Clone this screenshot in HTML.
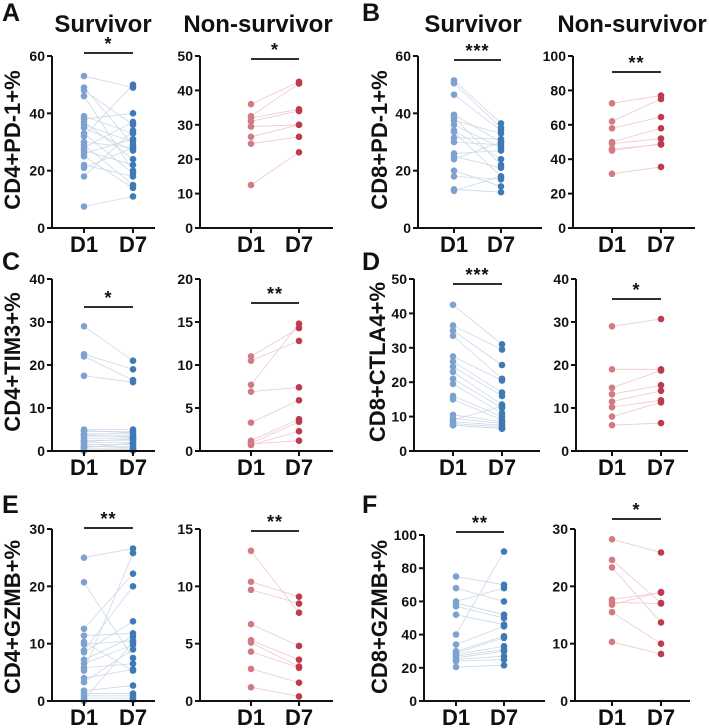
<!DOCTYPE html>
<html><head><meta charset="utf-8"><style>
html,body{margin:0;padding:0;background:#fff;}
svg{display:block;font-family:"Liberation Sans",Arial,sans-serif;font-weight:bold;}
</style></head><body>
<svg id="fig" width="709" height="728" viewBox="0 0 709 728" xmlns="http://www.w3.org/2000/svg">
<g font-size="24" text-anchor="middle" fill="#111">
<text x="103" y="32">Survivor</text>
<text x="258" y="32">Non-survivor</text>
<text x="473" y="32">Survivor</text>
<text x="632" y="32">Non-survivor</text>
</g>
<g font-size="25" fill="#111">
<text x="2" y="21">A</text>
<text x="362" y="21">B</text>
<text x="2" y="270">C</text>
<text x="362" y="270">D</text>
<text x="2" y="513">E</text>
<text x="362" y="513">F</text>
</g>
<g font-size="22" text-anchor="middle" fill="#111">
<text transform="translate(20,140) rotate(-90)">CD4+PD-1+%</text>
<text transform="translate(387,140) rotate(-90)">CD8+PD-1+%</text>
<text transform="translate(20,362) rotate(-90)">CD4+TIM3+%</text>
<text transform="translate(385,362) rotate(-90)">CD8+CTLA4+%</text>
<text transform="translate(20,617) rotate(-90)">CD4+GZMB+%</text>
<text transform="translate(387,617) rotate(-90)">CD8+GZMB+%</text>
</g>
</svg>
<script>
// ---- data ----
const categories = ["D1","D7"];
const aSurvD1 = [53,49,48,46,39,38,37,36,35,33,32,30,29,28,27,26,25,22,21,18,7.5];
const aSurvD7 = [49,29,36,20,33,40,24,30,27,19,50,28,15,37,22,31,14,18,28,34,11];
const aNonD1 = [36,32.5,32,31,29.5,26.5,24.5,12.5];
const aNonD7 = [42.5,42,34.5,34,30,30,26.5,22];
const bSurvD1 = [51.5,50.5,46.5,39.5,38.5,37.5,36,34,33.5,31.5,30,26,25,24,20,18,13.5,13];
const bSurvD7 = [36.5,35,34,30,22,33,28,24,18,31,29,27,21,30,14.5,17,12.5,18];
const bNonD1 = [72.5,62,58,50,49,46,45,31.5];
const bNonD7 = [77,75,64.5,58,52,48.5,49,35.5];
const cSurvD1 = [29,22.5,22,17.5,5,4.5,4,3.5,3,2.5,2,1.5,1,0.5,0.2,0,4.8,3.8,2.2,1.2,0.8];
const cSurvD7 = [21,19,16.5,16,5,4.6,4,3.5,3,2.5,2,1.5,1,0.5,0.3,0.1,4.2,3.2,2.8,0.7,1.8];
const cNonD1 = [11,10.5,7.7,6.9,3.3,1.2,0.9,0.7,0.8];
const cNonD7 = [14.3,12.8,14.8,7.4,5.9,3.7,3.4,2.3,1.2];
const dSurvD1 = [42.5,36.5,35,33.5,27.5,26,24.5,23,21,19.5,16,15,10.5,9.5,8.5,8,7.5,7.5,9];
const dSurvD7 = [31,29.5,25,21,20.5,17,16,13.5,12.5,11,10,9,8.5,8,7.5,7,6.5,6.5,13];
const dNonD1 = [29,19,14.7,13.2,11.5,10.2,8,6];
const dNonD7 = [30.7,19,18.7,15.3,14,11.8,11.3,6.5];
const eSurvD1 = [25,20.7,12.6,11.4,10.3,9.9,8.8,8.5,7.2,6.5,5.8,5.3,4,3.3,1.8,1.3,0.9,0.5,0.2,0];
const eSurvD7 = [26.6,7.5,22.2,11.8,5.3,10.5,20,13.9,11.2,9.8,6.5,25.8,5.5,9,2.7,1.3,0.9,0.5,10.3,0.2];
const eNonD1 = [13.1,10.4,9.7,6.7,5.3,5.1,4.3,2.8,1.2];
const eNonD7 = [7.7,9.1,8.5,4.8,3.6,3.0,2.9,1.6,0.4];
const fSurvD1 = [75,68,60,59,57,52,40,34,30,29,28,27,26,25,24,20.5];
const fSurvD7 = [70,60,68,52,50,46,90,45,39,38,33,31,30,27,25,21.5];
const fNonD1 = [28.2,24.6,23.3,17.7,17.2,16.8,15.5,10.3];
const fNonD7 = [25.9,17.1,13.7,18.9,17,19,10,8.2];
const aSurvTicks=[0,20,40,60], aNonTicks=[0,10,20,30,40,50];
const bSurvTicks=[0,20,40,60], bNonTicks=[0,20,40,60,80,100];
const cSurvTicks=[0,10,20,30,40], cNonTicks=[0,5,10,15,20];
const dSurvTicks=[0,10,20,30,40,50], dNonTicks=[0,10,20,30,40];
const eSurvTicks=[0,10,20,30], eNonTicks=[0,5,10,15];
const fSurvTicks=[0,20,40,60,80,100], fNonTicks=[0,10,20,30];
const sigLabels=["*","*","***","**","*","**","***","*","**","**","**","*"];

// ---- layout ----
const panels=[
 {id:"a-survivor",d1:aSurvD1,d7:aSurvD7,ticks:aSurvTicks,ax:52,x1:84,x7:133,xe:155,top:56,bot:228,bar:53,red:false},
 {id:"a-nonsurvivor",d1:aNonD1,d7:aNonD7,ticks:aNonTicks,ax:200,x1:251,x7:299,xe:333,top:56,bot:228,bar:59,red:true},
 {id:"b-survivor",d1:bSurvD1,d7:bSurvD7,ticks:bSurvTicks,ax:418,x1:454,x7:501,xe:542,top:56,bot:228,bar:60,red:false},
 {id:"b-nonsurvivor",d1:bNonD1,d7:bNonD7,ticks:bNonTicks,ax:573,x1:612,x7:661,xe:695,top:56,bot:228,bar:72,red:true},
 {id:"c-survivor",d1:cSurvD1,d7:cSurvD7,ticks:cSurvTicks,ax:52,x1:84,x7:133,xe:155,top:279,bot:451,bar:307,red:false},
 {id:"c-nonsurvivor",d1:cNonD1,d7:cNonD7,ticks:cNonTicks,ax:200,x1:251,x7:299,xe:333,top:279,bot:451,bar:303,red:true},
 {id:"d-survivor",d1:dSurvD1,d7:dSurvD7,ticks:dSurvTicks,ax:414,x1:453,x7:502,xe:540,top:279,bot:451,bar:284,red:false},
 {id:"d-nonsurvivor",d1:dNonD1,d7:dNonD7,ticks:dNonTicks,ax:576,x1:612,x7:661,xe:688,top:279,bot:451,bar:299,red:true},
 {id:"e-survivor",d1:eSurvD1,d7:eSurvD7,ticks:eSurvTicks,ax:52,x1:84,x7:133,xe:155,top:529,bot:701,bar:528,red:false},
 {id:"e-nonsurvivor",d1:eNonD1,d7:eNonD7,ticks:eNonTicks,ax:200,x1:251,x7:299,xe:333,top:529,bot:701,bar:531,red:true},
 {id:"f-survivor",d1:fSurvD1,d7:fSurvD7,ticks:fSurvTicks,ax:424,x1:456,x7:504,xe:545,top:535,bot:701,bar:532,red:false},
 {id:"f-nonsurvivor",d1:fNonD1,d7:fNonD7,ticks:fNonTicks,ax:575,x1:612,x7:661,xe:690,top:529,bot:701,bar:519,red:true}
];
const NS="http://www.w3.org/2000/svg";
const svg=document.getElementById("fig");
function mk(tag,attrs,parent){const e=document.createElementNS(NS,tag);for(const k in attrs)e.setAttribute(k,attrs[k]);parent.appendChild(e);return e;}
panels.forEach((p,pi)=>{
  const g=mk("g",{},svg);
  
  
  const maxV=p.ticks[p.ticks.length-1];
  const y=v=>p.bot-(v/maxV)*(p.bot-p.top);
  const xs=[p.x1,p.x7];
  const c1=p.red?"#d27b83":"#7ea2cf", c7=p.red?"#bf3a4c":"#3f7ab5", lc=p.red?"#efc8cc":"#cdd8e8";
  for(let i=0;i<p.d1.length;i++){
    const l=mk("line",{x1:xs[0],y1:y(p.d1[i]),x2:xs[1],y2:y(p.d7[i]),stroke:lc,"stroke-width":0.8},g);
    
    
  }
  [p.d1,p.d7].forEach((arr,ci)=>{
    arr.forEach(v=>{
      const c=mk("circle",{cx:xs[ci],cy:y(v),r:3.3,fill:ci?c7:c1},g);
      
      
    });
  });
  const ya=mk("line",{x1:p.ax,y1:p.top,x2:p.ax,y2:p.bot+1,stroke:"#111","stroke-width":2},g);
  
  
  const xa=mk("line",{x1:p.ax-1,y1:p.bot,x2:p.xe,y2:p.bot,stroke:"#111","stroke-width":2},g);
  
  
  p.ticks.forEach(t=>{
    const tl=mk("line",{x1:p.ax-5,y1:y(t),x2:p.ax,y2:y(t),stroke:"#111","stroke-width":2},g);
    
    
    const tx=mk("text",{x:p.ax-7,y:y(t)+5,"text-anchor":"end","font-size":14,fill:"#111"},g);
    tx.textContent=t;
    
    
  });
  categories.forEach((cat,ci)=>{
    const tk=mk("line",{x1:xs[ci],y1:p.bot,x2:xs[ci],y2:p.bot+5,stroke:"#111","stroke-width":2},g);
    
    
    const tx=mk("text",{x:xs[ci],y:p.bot+24,"text-anchor":"middle","font-size":22,fill:"#111"},g);
    tx.textContent=cat;
    
    
  });
  const sb=mk("line",{x1:p.x1,y1:p.bar,x2:p.x7,y2:p.bar,stroke:"#111","stroke-width":1.8},g);
  
  
  const st=mk("text",{x:(p.x1+p.x7)/2,y:p.bar-3,"text-anchor":"middle","font-size":18,fill:"#111","letter-spacing":"1"},g);
  st.textContent=sigLabels[pi];
  
  
});
</script>
</body></html>
